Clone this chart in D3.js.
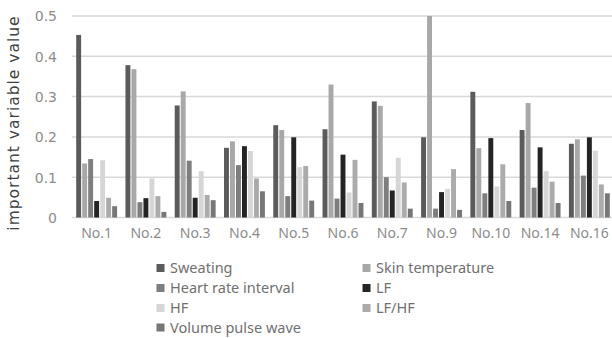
<!DOCTYPE html>
<html>
<head>
<meta charset="utf-8">
<script src="https://cdn.jsdelivr.net/npm/d3@7/dist/d3.min.js"></script>
<style>
  html, body { margin: 0; padding: 0; background: #fff; }
  svg { display: block; }
  text { font-family: "Noto Sans", "DejaVu Sans", sans-serif; fill: #595959; }
</style>
</head>
<body>
<svg id="chart" width="612" height="338"></svg>
<script>
// Subjects on the x axis
const categories = ["No.1", "No.2", "No.3", "No.4", "No.5", "No.6", "No.7", "No.9", "No.10", "No.14", "No.16"];

// Variable names, in drawing order within each group
const seriesNames = ["Sweating", "Skin temperature", "Heart rate interval", "LF", "HF", "LF/HF", "Volume pulse wave"];

// Importance values per variable, one entry per subject
const sweating        = [0.453, 0.378, 0.278, 0.173, 0.229, 0.219, 0.288, 0.199, 0.312, 0.217, 0.183];
const skinTemperature = [0.134, 0.368, 0.313, 0.189, 0.217, 0.330, 0.277, 0.500, 0.172, 0.284, 0.194];
const heartRate       = [0.145, 0.038, 0.141, 0.130, 0.053, 0.047, 0.100, 0.022, 0.060, 0.074, 0.104];
const lf              = [0.041, 0.048, 0.049, 0.177, 0.199, 0.156, 0.067, 0.063, 0.197, 0.174, 0.199];
const hf              = [0.142, 0.097, 0.115, 0.165, 0.125, 0.062, 0.148, 0.071, 0.077, 0.115, 0.166];
const lfhf            = [0.049, 0.053, 0.056, 0.097, 0.128, 0.143, 0.087, 0.120, 0.132, 0.089, 0.082];
const volumePulse     = [0.028, 0.014, 0.043, 0.065, 0.042, 0.036, 0.022, 0.019, 0.041, 0.036, 0.060];

const yTicks = [0, 0.1, 0.2, 0.3, 0.4, 0.5];
const yTickLabels = ["0", "0.1", "0.2", "0.3", "0.4", "0.5"];

const seriesValues = [sweating, skinTemperature, heartRate, lf, hf, lfhf, volumePulse];
const colors = ["#5b5b5b", "#a8a8a8", "#7e7e7e", "#242424", "#d6d6d6", "#ababab", "#777777"];

const svg = d3.select("#chart");

const x0 = d3.scaleBand().domain(categories).range([72, 614]).paddingInner(0.17).paddingOuter(0.085);
const x1 = d3.scaleBand().domain(seriesNames).range([0, x0.bandwidth()]).paddingInner(0.18);
const y = d3.scaleLinear().domain([0, 0.5]).range([217.5, 16]);

// Horizontal gridlines
svg.append("g")
  .selectAll("line")
  .data(yTicks)
  .join("line")
  .attr("x1", 72).attr("x2", 612)
  .attr("y1", d => y(d)).attr("y2", d => y(d))
  .attr("stroke", "#d9d9d9")
  .attr("stroke-width", 1.5);

// Y axis tick labels
const yAxis = d3.axisLeft(y)
  .tickValues(yTicks)
  .tickFormat((d, i) => yTickLabels[i])
  .tickSize(0)
  .tickPadding(0);
const gy = svg.append("g").attr("transform", "translate(57,0)").call(yAxis);
gy.select(".domain").remove();
gy.selectAll("text")
  .attr("font-size", 14)
  .style("font-family", "\"DejaVu Sans\", sans-serif")
  .style("fill", "#8c8c8c")
  .attr("dy", "0.35em");

// Y axis title
svg.append("text")
  .attr("transform", "translate(19,123) rotate(-90)")
  .attr("text-anchor", "middle")
  .attr("font-size", 15.5)
  .attr("letter-spacing", 1)
  .style("font-family", "\"DejaVu Sans\", sans-serif")
  .style("fill", "#404040")
  .text("important variable value");

// Bars
const groups = svg.append("g")
  .selectAll("g")
  .data(categories)
  .join("g")
  .attr("transform", d => `translate(${x0(d)},0)`);

groups.selectAll("rect")
  .data((c, ci) => seriesNames.map((s, si) => ({ s, si, v: seriesValues[si][ci] })))
  .join("rect")
  .attr("x", d => x1(d.s))
  .attr("width", x1.bandwidth())
  .attr("y", d => y(d.v))
  .attr("height", d => y(0) - y(d.v))
  .attr("fill", d => colors[d.si]);

// X axis labels
const xAxis = d3.axisBottom(x0).tickSize(0).tickPadding(0);
const gx = svg.append("g").attr("transform", "translate(0,228)").call(xAxis);
gx.select(".domain").remove();
gx.selectAll("text")
  .attr("font-size", 14)
  .style("fill", "#8c8c8c")
  .attr("dy", "0.71em");

// Legend: two columns
const legendCols = [156.5, 362.5];
const legendRows = [268, 288, 308, 327.5];
const legend = svg.append("g")
  .selectAll("g")
  .data(seriesNames)
  .join("g")
  .attr("transform", (d, i) => `translate(${legendCols[i % 2]},${legendRows[Math.floor(i / 2)]})`);

legend.append("rect")
  .attr("x", 0).attr("y", -4)
  .attr("width", 8).attr("height", 8)
  .attr("fill", (d, i) => colors[i]);

legend.append("text")
  .attr("x", 13.5)
  .attr("dy", "0.35em")
  .attr("font-size", 14.5)
  .style("fill", "#707070")
  .text(d => d);
</script>
</body>
</html>
